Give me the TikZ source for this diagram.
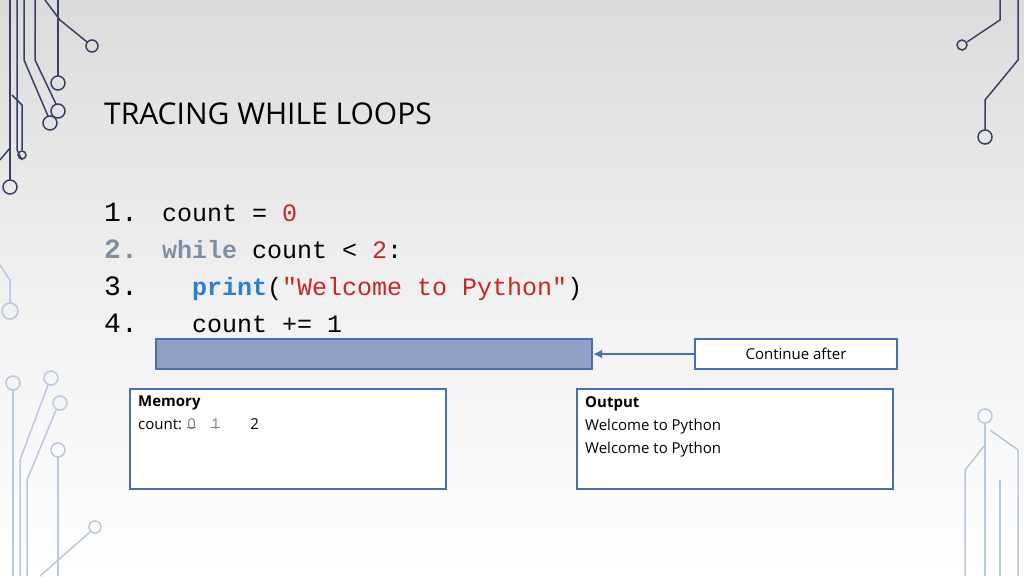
\documentclass[tikz,border=0pt]{standalone}
\usepackage{fontspec}
\setmainfont{Open Sans}
\newfontfamily\codefont{Liberation Mono}
\usetikzlibrary{arrows.meta}
\definecolor{barblue}{HTML}{8FA0C4}
\definecolor{edgeblue}{HTML}{4A6FB0}
\definecolor{kwgray}{HTML}{7F8FA6}
\definecolor{kwblue}{HTML}{2F7FD0}
\definecolor{strred}{HTML}{C62828}
\definecolor{wire}{HTML}{3A3F66}
\definecolor{wirelight}{HTML}{B8C8E0}
\newcommand{\struck}[1]{\textcolor{gray}{\rlap{#1}\raisebox{0.3ex}{\rule{0.6em}{0.6pt}}}}
\tikzset{membox/.style={draw=edgeblue, line width=2.4pt, fill=white}}
\tikzset{codeline/.style={anchor=base west, inner sep=0pt, font=\codefont\fontsize{25}{25}\selectfont}}
\tikzset{numline/.style={anchor=base west, inner sep=0pt, font=\codefont\fontsize{28}{28}\selectfont}}
\tikzset{boxtext/.style={anchor=north west, inner sep=0pt, align=left, font=\fontsize{15}{23}\selectfont}}
\tikzset{dark wire/.style={wire, line width=1.5pt}}
\tikzset{light wire/.style={wirelight, line width=1.5pt}}
\begin{document}
\begin{tikzpicture}[x=1pt,y=-1pt]
  % Background
  \shade[top color=gray!28, bottom color=white, middle color=gray!12] (0,0) rectangle (1024,576);
  \useasboundingbox (0,0) rectangle (1024,576);

  % Circuit decoration
  \draw[dark wire] (10,0) -- (10,180);
  \draw[dark wire] (10,187) circle (7);
  \draw[dark wire] (17,0) -- (17,150) -- (22,160);
  \draw[dark wire] (24,0) -- (24,60) -- (48,116);
  \draw[dark wire] (50,123) circle (7);
  \draw[dark wire] (35,0) -- (35,60) -- (56,104);
  \draw[dark wire] (58,111) circle (7);
  \draw[dark wire] (58,0) -- (58,76);
  \draw[dark wire] (58,83) circle (7);
  \draw[dark wire] (45,0) -- (60,20) -- (87,42);
  \draw[dark wire] (92,46) circle (6);
  \draw[dark wire] (12,95) -- (22,105) -- (22,150);
  \draw[dark wire] (22,155) circle (4);
  \draw[dark wire] (0,160) -- (10,148);
  \draw[light wire] (0,265) -- (10,280) -- (10,303);
  \draw[light wire] (10,311) circle (8);
  \draw[light wire] (13,383) circle (7);
  \draw[light wire] (13,390) -- (13,576);
  \draw[light wire] (20,576) -- (20,460) -- (48,385);
  \draw[light wire] (51,378) circle (7);
  \draw[light wire] (27,576) -- (27,480) -- (56,410);
  \draw[light wire] (60,403) circle (7);
  \draw[light wire] (58,450) circle (7);
  \draw[light wire] (58,457) -- (58,576);
  \draw[light wire] (40,576) -- (90,532);
  \draw[light wire] (95,527) circle (6);
  \draw[dark wire] (1018,0) -- (1018,60) -- (985,100) -- (985,130);
  \draw[dark wire] (985,137) circle (7);
  \draw[dark wire] (1000,0) -- (1000,20) -- (967,42);
  \draw[dark wire] (962,45) circle (5);
  \draw[light wire] (1018,576) -- (1018,450) -- (990,430);
  \draw[light wire] (985,416) circle (7);
  \draw[light wire] (985,423) -- (985,576);
  \draw[light wire] (965,576) -- (965,470) -- (985,445);
  \draw[light wire] (1000,576) -- (1000,480);

  % Title
  \node[anchor=base west, inner sep=0pt, font=\fontsize{30}{30}\selectfont] (title) at (104,124) {TRACING WHILE LOOPS};

  % Code
  \node[numline] (n1) at (104,221) {1.};
  \node[numline, kwgray, font=\codefont\bfseries\fontsize{28}{28}\selectfont] (n2) at (104,258) {2.};
  \node[numline] (n3) at (104,295) {3.};
  \node[numline] (n4) at (104,332) {4.};
  \node[codeline] (c1) at (162,221) {count = \textcolor{strred}{0}};
  \node[codeline] (c2) at (162,258) {\textcolor{kwgray}{\bfseries while} count < \textcolor{strred}{2}:};
  \node[codeline] (c3) at (162,295) {\ \ \textcolor{kwblue}{\bfseries print}(\textcolor{strred}{"Welcome to Python"})};
  \node[codeline] (c4) at (162,332) {\ \ count += 1};

  % Highlight bar and pointer
  \node[draw=edgeblue, line width=2.4pt, fill=barblue, minimum width=436, minimum height=30, inner sep=0pt] (bar) at (374,354) {};
  \node[membox, minimum width=202, minimum height=30, inner sep=0pt, font=\fontsize{15}{15}\selectfont] (cont) at (796,354) {Continue after};
  \draw[edgeblue, line width=2pt, -{Latex[length=9pt,width=9pt]}] (cont.west) -- (bar.east);

  % Memory and output
  \node[membox, minimum width=316, minimum height=100, inner sep=0pt] (memory) at (288,439) {};
  \node[boxtext] (memtext) at (138,396) {\textbf{Memory}\\count: \struck{0}\quad\struck{1}\qquad 2};
  \node[membox, minimum width=316, minimum height=100, inner sep=0pt] (output) at (735,439) {};
  \node[boxtext] (outtext) at (585,396) {\textbf{Output}\\Welcome to Python\\Welcome to Python};
\end{tikzpicture}
\end{document}
